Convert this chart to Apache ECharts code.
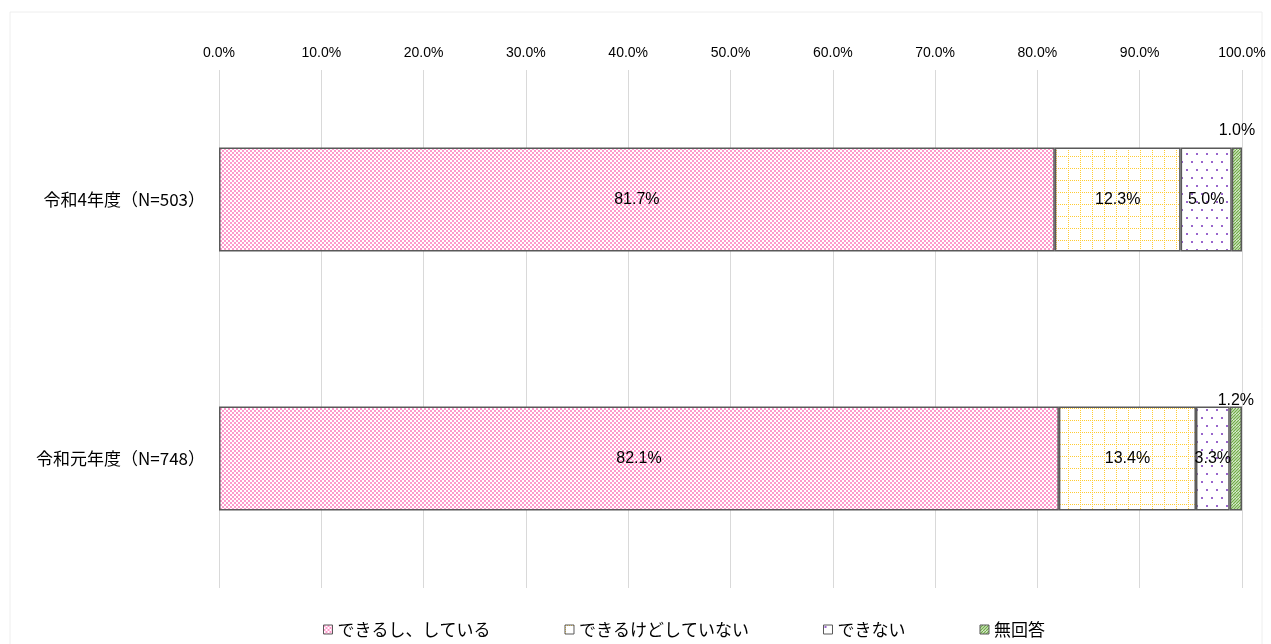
<!DOCTYPE html>
<html><head><meta charset="utf-8">
<script src="https://cdn.jsdelivr.net/npm/echarts@6/dist/echarts.min.js"></script>
<style>html,body{margin:0;padding:0;background:#fff}#c{width:1271px;height:644px}</style>
</head><body><div id="c"></div>
<script>
const categories = ['令和4年度（N=503）', '令和元年度（N=748）'];
const seriesNames = ['できるし、している', 'できるけどしていない', 'できない', '無回答'];
const v_doing = [81.7, 82.1];
const v_canNot = [12.3, 13.4];
const v_cannot = [5.0, 3.3];
const v_noAns = [1.0, 1.2];
const tickLabels = ['0.0%','10.0%','20.0%','30.0%','40.0%','50.0%','60.0%','70.0%','80.0%','90.0%','100.0%'];

function mk(w,h,draw){const c=document.createElement('canvas');c.width=w;c.height=h;const g=c.getContext('2d');g.imageSmoothingEnabled=false;draw(g);return c;}
const pinkPat = mk(4,4,g=>{g.fillStyle='#fff';g.fillRect(0,0,4,4);g.fillStyle='#ff99cc';g.fillRect(0,0,2,2);g.fillRect(2,2,2,2);});
const yellowPat = mk(12,12,g=>{g.fillStyle='#fff';g.fillRect(0,0,12,12);g.fillStyle='#ffcc33';for(let i=0;i<12;i+=2){g.fillRect(i,0,1,1);g.fillRect(0,i,1,1);}});
const purplePat = mk(10,16,g=>{g.fillStyle='#fff';g.fillRect(0,0,10,16);g.fillStyle='#9966cc';g.fillRect(1,1,2,2);g.fillRect(6,9,2,2);});
const greenPat = mk(6,6,g=>{g.fillStyle='#fff';g.fillRect(0,0,6,6);g.strokeStyle='#70ad47';g.lineWidth=1.4;for(let k=-6;k<=12;k+=3){g.beginPath();g.moveTo(k,6);g.lineTo(k+6,0);g.stroke();}});
const pats=[pinkPat,yellowPat,purplePat,greenPat];
const vals=[v_doing,v_canNot,v_cannot,v_noAns];
const fam='"Liberation Sans","Noto Sans CJK JP",sans-serif';
const jfam='"Noto Sans CJK JP","Liberation Sans",sans-serif';
const noAnsLabelDist=[9,-2];
const series = seriesNames.map((n,i)=>({
  name:n,type:'bar',stack:'s',barWidth:104,
  data:i<3?vals[i]:vals[i].map((v,j)=>({value:v,label:{distance:noAnsLabelDist[j]}})),
  itemStyle:{color:{image:pats[i],repeat:'repeat'},borderColor:'#595959',borderWidth:1.5},
  label:i<3?{show:true,position:'inside',color:'#000',fontSize:16,fontFamily:fam,formatter:p=>p.value.toFixed(1)+'%'}
   :{show:true,position:'top',color:'#000',fontSize:16,fontFamily:fam,formatter:p=>p.value.toFixed(1)+'%'}
}));
const chart=echarts.init(document.getElementById('c'),null,{renderer:'canvas'});
chart.setOption({
  animation:false,
  graphic:[{type:'rect',shape:{x:10,y:12,width:1252,height:640},style:{fill:'none',stroke:'#eeeeee',lineWidth:1},silent:true}],
  grid:{left:219,right:29,top:70,bottom:56},
  xAxis:{type:'value',position:'top',min:0,max:100,interval:10,
    axisLine:{show:false},axisTick:{show:false},
    splitLine:{lineStyle:{color:'#d9d9d9',width:1}},
    axisLabel:{margin:10,color:'#000',fontSize:14,fontFamily:fam,formatter:v=>tickLabels[Math.round(v/10)]}},
  yAxis:{type:'category',inverse:true,data:categories,axisLine:{show:false},axisTick:{show:false},
    axisLabel:{margin:14,color:'#000',fontSize:17,fontFamily:jfam}},
  legend:{bottom:1,left:318,itemWidth:9,itemHeight:9,itemGap:74,icon:'rect',
    textStyle:{fontSize:17,color:'#000',fontFamily:jfam},
    itemStyle:{borderColor:'#595959',borderWidth:1},data:seriesNames},
  series:series
});
</script></body></html>
